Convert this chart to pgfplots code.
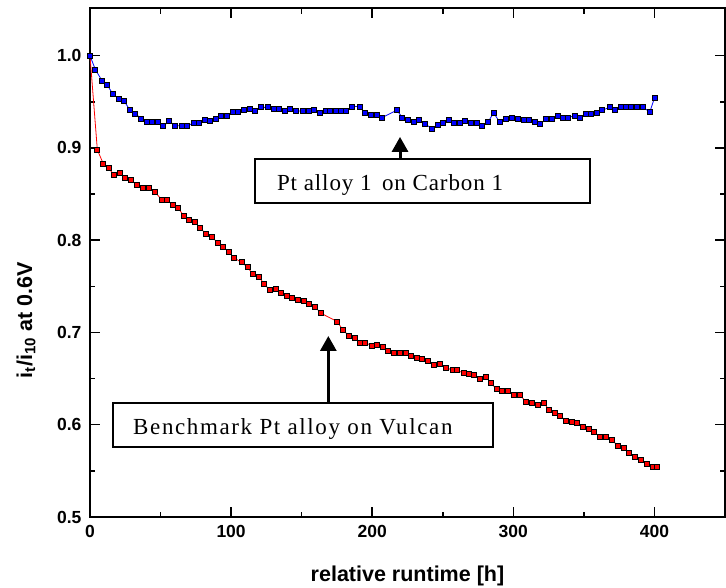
\documentclass[border=0pt]{standalone}
\usepackage{pgfplots}
\usepackage{pgfplotstable}
\pgfplotsset{compat=1.18}
\usepackage{fontspec}
\setmainfont{Liberation Sans}
\newfontfamily\annfont[LetterSpace=4]{Liberation Serif}
\newfontfamily\annfontb[LetterSpace=7]{Liberation Serif}
\usetikzlibrary{arrows.meta}

\pgfplotstableread{
x y
0 1.000
3.8 0.985
8.5 0.973
12.3 0.968
16 0.959
20.3 0.953
24.1 0.951
28.4 0.941
32.1 0.937
36.4 0.932
40.2 0.928
44 0.928
48 0.928
52 0.924
56.2 0.929
60.5 0.924
65 0.924
69 0.924
73.3 0.927
77.2 0.927
81.3 0.930
85.2 0.929
89.4 0.932
93.1 0.935
97 0.935
101.2 0.939
105 0.939
108.8 0.941
113 0.942
117 0.940
121 0.944
125.8 0.944
130 0.942
134 0.942
138 0.940
142 0.942
146 0.940
151 0.940
155 0.940
159 0.941
163 0.938
167 0.940
170 0.940
174 0.940
178 0.940
181.6 0.940
185.8 0.945
191 0.945
194.8 0.938
199 0.936
203 0.936
207 0.933
217.5 0.941
221.3 0.933
225 0.930
229.3 0.928
233.2 0.930
237.3 0.926
242.5 0.921
246.3 0.925
250 0.927
254.3 0.930
258 0.927
262 0.927
266 0.929
270 0.927
274 0.927
278 0.924
282 0.928
286 0.938
290.4 0.928
294.7 0.931
299 0.933
303 0.931
307.4 0.930
311 0.930
315 0.928
319 0.926
323 0.931
327 0.931
331.4 0.935
335.3 0.933
339 0.933
343.4 0.935
347.3 0.933
351.3 0.937
355.3 0.937
359.3 0.938
363 0.941
368.3 0.944
372 0.941
376 0.944
380 0.944
383.6 0.944
387.9 0.944
392 0.944
396.7 0.939
400 0.954
}\bluedata

\pgfplotstableread{
x y
0 1.000
5.2 0.898
9.4 0.883
13.2 0.878
17 0.871
21.3 0.873
25 0.868
28.8 0.865
33.5 0.860
37.3 0.857
42 0.857
46.3 0.852
50.6 0.844
54.4 0.844
58.6 0.838
62.4 0.835
66.7 0.826
69.9 0.822
74.2 0.820
78 0.813
82.3 0.807
86.5 0.804
90.3 0.797
94.5 0.793
98.3 0.787
102.1 0.781
107.3 0.776
111.6 0.771
115.4 0.763
119.6 0.760
123.4 0.753
127.2 0.746
131.4 0.747
135.2 0.743
139.5 0.740
143.3 0.737
147.5 0.735
151.3 0.734
155.1 0.731
159.4 0.728
163.5 0.721
175 0.712
179.2 0.703
183.5 0.696
187.7 0.694
191.5 0.689
194.8 0.689
199.5 0.686
203.3 0.687
207.5 0.684
211.3 0.680
215.6 0.678
219.9 0.678
223.6 0.678
227.4 0.675
231.7 0.672
235.5 0.671
239.7 0.669
244 0.665
248.2 0.666
252 0.662
257.2 0.659
260 0.659
264.8 0.656
268.6 0.655
272.3 0.654
276.1 0.650
280.4 0.652
284.2 0.645
288 0.639
292.2 0.637
296.5 0.637
300.2 0.632
305 0.632
308.7 0.625
313 0.624
317.3 0.622
321.5 0.624
325.3 0.616
329.5 0.613
333.3 0.610
337.1 0.604
341.4 0.603
345.1 0.602
349.4 0.598
353.2 0.596
357.4 0.592
361.2 0.587
365.5 0.587
369.7 0.584
374 0.577
378.2 0.575
382 0.570
386.3 0.565
390.5 0.562
394.3 0.558
398.6 0.554
401.7 0.554
}\reddata

\begin{document}
\begin{tikzpicture}
\useasboundingbox (0,0) rectangle (726pt,587pt);
\begin{axis}[
  at={(90pt,70pt)}, anchor=south west,
  width=635pt, height=508.7pt, scale only axis,
  xmin=0, xmax=450, ymin=0.5, ymax=1.0514,
  xtick={0,100,200,300,400},
  minor xtick={50,150,250,350},
  ytick={0.5,0.6,0.7,0.8,0.9,1.0},
  minor ytick={0.55,0.65,0.75,0.85,0.95},
  tick align=inside,
  major tick length=10pt,
  minor tick length=5.5pt,
  every tick/.style={black, line width=1.5pt},
  axis line style={line width=1.6pt},
  /pgf/number format/assume math mode=true,
  tick label style={font=\fontsize{17.5}{19}\selectfont\bfseries},
  xticklabel style={yshift=-5pt},
  yticklabel style={xshift=-5pt, /pgf/number format/.cd, fixed, precision=1, fixed zerofill},
  xlabel={relative runtime [h]},
  every axis x label/.style={at={(rel axis cs:0.5,0)}, anchor=base, yshift=-64pt, font=\fontsize{21.5}{24}\selectfont\bfseries},
  ylabel={i\textsubscript{t}/i\textsubscript{10} at 0.6V},
  every axis y label/.style={at={(rel axis cs:-0.1008,0.387)}, rotate=90, anchor=center, font=\fontsize{21.5}{24}\selectfont\bfseries},
]
\addplot[red, line width=0.8pt, mark=square*, mark size=2.5pt, mark options={fill=red, draw=black, line width=0.8pt}] table[x=x,y=y] {\reddata};
\addplot[blue, line width=0.8pt, mark=square*, mark size=2.5pt, mark options={fill=blue, draw=black, line width=0.8pt}] table[x=x,y=y] {\bluedata};

\draw[line width=1.2pt, fill=white] (axis cs:116.9,0.8403) rectangle (axis cs:354.3,0.888);
\node[anchor=base west, inner sep=0pt, font=\annfont\fontsize{23}{26}\selectfont] at (axis cs:132.4,0.8537) {Pt alloy 1\hspace{0.45em}on Carbon 1};
\draw[line width=3pt, -{Triangle[length=15pt,width=16pt]}] (axis cs:219.7,0.888) -- (axis cs:219.7,0.912);

\draw[line width=1.2pt, fill=white] (axis cs:16.3,0.5759) rectangle (axis cs:285.6,0.6235);
\node[anchor=base west, inner sep=0pt, font=\annfontb\fontsize{23}{26}\selectfont] at (axis cs:30.5,0.5896) {Benchmark Pt alloy on Vulcan};
\draw[line width=3pt, -{Triangle[length=15pt,width=16pt]}] (axis cs:168.9,0.6235) -- (axis cs:168.9,0.6962);
\end{axis}
\end{tikzpicture}
\end{document}
